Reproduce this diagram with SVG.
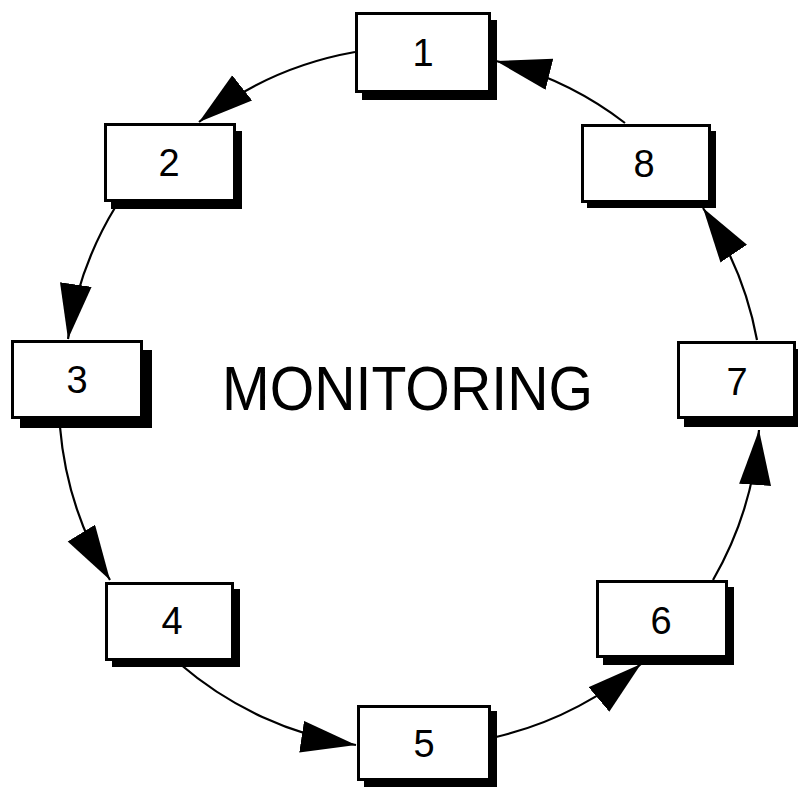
<svg xmlns="http://www.w3.org/2000/svg" width="798" height="788" viewBox="0 0 798 788">
<style>
.box{fill:#fff;stroke:#000;stroke-width:3}
.sh{fill:#000}
.lbl{font-family:"Liberation Sans",Arial,sans-serif;font-size:38px;fill:#000;text-anchor:middle}
.title{font-family:"Liberation Sans",Arial,sans-serif;font-size:63px;fill:#000;text-anchor:middle}
.con{fill:none;stroke:#000;stroke-width:2.2}
</style>
<defs>
<marker id="ah" markerUnits="userSpaceOnUse" markerWidth="56" markerHeight="34" refX="55" refY="16" orient="auto">
<path d="M0,0 L55,16 L0,32 Z" fill="#000"/>
</marker>
</defs>
<rect width="798" height="788" fill="#fff"/>
<g id="connectors">
<path class="con" marker-end="url(#ah)" d="M355,52 A350,350 0 0 0 199,122"/>
<path class="con" marker-end="url(#ah)" d="M116,206 A350,350 0 0 0 68,339"/>
<path class="con" marker-end="url(#ah)" d="M60,427 A350,350 0 0 0 110,580"/>
<path class="con" marker-end="url(#ah)" d="M180,664 A350,350 0 0 0 356,745"/>
<path class="con" marker-end="url(#ah)" d="M496,737 A350,350 0 0 0 641,664"/>
<path class="con" marker-end="url(#ah)" d="M713,580 A350,350 0 0 0 759,430"/>
<path class="con" marker-end="url(#ah)" d="M757,340 A350,350 0 0 0 703,208"/>
<path class="con" marker-end="url(#ah)" d="M625,123 A350,350 0 0 0 496,61"/>
</g>
<g id="n1"><rect class="sh" x="362" y="20" width="135" height="80"/><rect class="box" x="356.5" y="13.5" width="133" height="78"/><text class="lbl" x="423" y="66">1</text></g>
<g id="n2"><rect class="sh" x="111" y="131" width="131" height="78"/><rect class="box" x="105.5" y="124.5" width="129" height="76"/><text class="lbl" x="169" y="176">2</text></g>
<g id="n3"><rect class="sh" x="20" y="350" width="132" height="78"/><rect class="box" x="12.5" y="341.5" width="129" height="76"/><text class="lbl" x="77" y="393">3</text></g>
<g id="n4"><rect class="sh" x="112" y="589" width="128" height="78"/><rect class="box" x="106.5" y="583.5" width="126" height="76"/><text class="lbl" x="172" y="634">4</text></g>
<g id="n5"><rect class="sh" x="364" y="711" width="133" height="76"/><rect class="box" x="358.5" y="706.5" width="131" height="73"/><text class="lbl" x="424" y="757">5</text></g>
<g id="n6"><rect class="sh" x="603" y="587" width="131" height="78"/><rect class="box" x="597.5" y="581.5" width="129" height="75"/><text class="lbl" x="661" y="634">6</text></g>
<g id="n7"><rect class="sh" x="684" y="349" width="120" height="78"/><rect class="box" x="678.5" y="342.5" width="116" height="75"/><text class="lbl" x="737" y="395">7</text></g>
<g id="n8"><rect class="sh" x="587" y="131" width="129" height="77"/><rect class="box" x="582.5" y="125.5" width="127" height="76"/><text class="lbl" x="644" y="177">8</text></g>
<text class="title" x="407.5" y="410" textLength="371" lengthAdjust="spacingAndGlyphs">MONITORING</text>
</svg>
